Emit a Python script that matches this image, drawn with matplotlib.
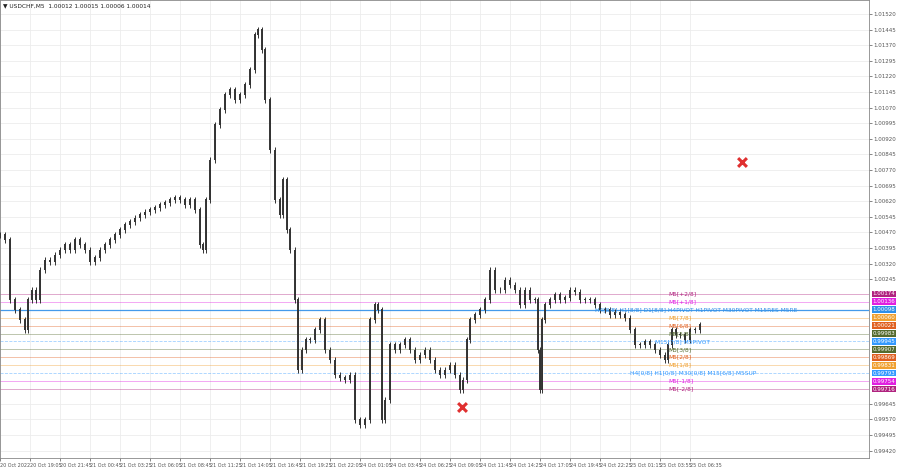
import matplotlib
matplotlib.use("Agg")
import matplotlib.pyplot as plt
import numpy as np

bar_x = [0,5,10,15,20,25,28,32,36,40,45,50,55,60,65,70,75,80,85,90,95,100,105,110,115,120,125,130,135,140,145,150,155,160,165,170,175,180,185,190,195,200,203,206,210,215,220,225,230,235,240,245,250,255,258,262,265,270,275,280,283,287,290,295,298,302,306,310,315,320,325,330,335,340,345,350,355,360,365,370,375,378,382,385,390,395,400,405,410,415,420,425,430,435,440,445,450,455,460,463,467,470,475,480,485,490,495,500,505,510,515,520,525,530,535,538,540,542,545,550,555,560,565,570,575,580,585,590,595,600,605,610,615,620,625,630,635,640,645,650,655,660,665,668,672,676,680,685,690,695,700]
closes = [1.00457,1.00433,1.00144,1.00096,1.00048,1.00000,1.00144,1.00192,1.00144,1.00288,1.00336,1.00327,1.00360,1.00384,1.00409,1.00384,1.00433,1.00409,1.00384,1.00327,1.00346,1.00384,1.00409,1.00433,1.00457,1.00481,1.00505,1.00519,1.00538,1.00553,1.00567,1.00577,1.00587,1.00601,1.00611,1.00625,1.00635,1.00625,1.00601,1.00625,1.00577,1.00409,1.00384,1.00625,1.00817,1.00986,1.01058,1.01130,1.01154,1.01106,1.01130,1.01178,1.01250,1.01419,1.01443,1.01346,1.01106,1.00865,1.00625,1.00553,1.00721,1.00481,1.00384,1.00144,0.99807,0.99903,0.99952,0.99952,1.00000,1.00048,0.99903,0.99855,0.99783,0.99769,0.99759,0.99783,0.99567,0.99543,0.99567,1.00048,1.00120,1.00096,0.99567,0.99663,0.99928,0.99903,0.99928,0.99952,0.99903,0.99855,0.99879,0.99903,0.99855,0.99807,0.99783,0.99807,0.99831,0.99783,0.99711,0.99759,0.99952,1.00048,1.00072,1.00096,1.00144,1.00288,1.00192,1.00192,1.00240,1.00216,1.00192,1.00120,1.00192,1.00144,1.00144,0.99903,0.99711,1.00048,1.00120,1.00144,1.00168,1.00144,1.00154,1.00192,1.00182,1.00144,1.00144,1.00144,1.00120,1.00096,1.00096,1.00072,1.00086,1.00072,1.00057,1.00000,0.99928,0.99928,0.99942,0.99928,0.99903,0.99879,0.99855,0.99928,1.00000,0.99976,0.99976,0.99952,1.00000,1.00000,1.00024]

level_prices = [1.00174,1.00136,1.00098,1.00060,1.00021,0.99983,0.99945,0.99907,0.99869,0.99831,0.99793,0.99754,0.99716]
level_colors = ['#b0237f','#e020e0','#2f8fe8','#f0a030','#e06020','#556b2f','#3399ff','#556b2f','#e06020','#f0a030','#3399ff','#e020e0','#b0237f']
level_styles = ['-','-','-','-','-','-','--','-','-','-','--','-','-']
level_texts = ['M5[+2/8]','M5[+1/8]','H4[8/8] H1[8/8] D1[8/8] H4PIVOT H1PIVOT M30PIVOT M15RES M5RE','M5[7/8]','M5[6/8]','M5[5/8]','M15[7/8] M5PIVOT','M5[3/8]','M5[2/8]','M5[1/8]','H4[0/8] H1[0/8] M30[0/8] M15[6/8] M5SUP','M5[-1/8]','M5[-2/8]']
text_x = [668,668,595,668,668,668,655,668,668,668,630,668,668]

y_ticks = [1.01520,1.01445,1.01370,1.01295,1.01220,1.01145,1.01070,1.00995,1.00920,1.00845,1.00770,1.00695,1.00620,1.00545,1.00470,1.00395,1.00320,1.00245,0.99645,0.99570,0.99495,0.99420]
x_tick_pos = [0,30,60,90,120,150,180,210,240,270,300,330,360,390,420,450,480,510,540,570,600,630,660,690]
x_tick_labels = ['20 Oct 2022','20 Oct 19:05','20 Oct 21:45','21 Oct 00:45','21 Oct 03:25','21 Oct 06:05','21 Oct 08:45','21 Oct 11:25','21 Oct 14:05','21 Oct 16:45','21 Oct 19:25','21 Oct 22:05','24 Oct 01:05','24 Oct 03:45','24 Oct 06:25','24 Oct 09:05','24 Oct 11:45','24 Oct 14:25','24 Oct 17:05','24 Oct 19:45','24 Oct 22:25','25 Oct 01:15','25 Oct 03:55','25 Oct 06:35']
marks_x = [742,462]
marks_y = [1.00808,0.99630]

fig = plt.figure(figsize=(9,4.68), dpi=100)
ax = fig.add_axes([0.0, 0.021, 0.965, 0.979])
ax.set_xlim(0, 868)
ax.set_ylim(0.99384, 1.01587)
for yt in y_ticks:
    ax.axhline(yt, color='#ececec', lw=0.6, zorder=0)
for xt in x_tick_pos:
    ax.axvline(xt, color='#ececec', lw=0.6, zorder=0)

prev = closes[0]
for i, (x, c) in enumerate(zip(bar_x, closes)):
    o = prev
    hi = max(o, c) + 0.00015
    lo = min(o, c) - 0.00015
    ax.vlines(x, lo, hi, color='#333333', lw=0.7, zorder=3)
    ax.vlines(x, min(o,c), max(o,c)+0.00003, color='#333333', lw=1.4, zorder=3)
    prev = c

for p, col, st, t, tx in zip(level_prices, level_colors, level_styles, level_texts, text_x):
    ax.axhline(p, color=col, lw=0.9 if col=='#2f8fe8' else 0.6, ls=st, alpha=0.9 if col=='#2f8fe8' else 0.45, zorder=2)
    ax.text(tx, p, t, color=col, fontsize=4.2, va='center', ha='left', zorder=4)
    ax.text(1.005, p, f'{p:.5f}', transform=ax.get_yaxis_transform(), color='white', fontsize=4.0,
            va='center', ha='left', bbox=dict(boxstyle='square,pad=0.15', fc=col, ec='none'))

ax.scatter(marks_x, marks_y, marker='x', s=40, color='#e03030', linewidths=2.2, zorder=5)

ax.yaxis.tick_right()
ax.set_yticks(y_ticks)
ax.set_yticklabels([f'{v:.5f}' for v in y_ticks], fontsize=4.0, color='#333333')
ax.set_xticks(x_tick_pos)
ax.set_xticklabels(x_tick_labels, fontsize=3.5, color='#333333', ha='left')
ax.tick_params(length=2, width=0.5, pad=1.5, colors='#555555')
for s in ax.spines.values():
    s.set_color('#888888'); s.set_linewidth(0.6)
ax.text(3, 1.01560, '\u25BC USDCHF,M5  1.00012 1.00015 1.00006 1.00014', fontsize=4.2, color='#222222', va='center')
fig.savefig('out.png', dpi=100)
